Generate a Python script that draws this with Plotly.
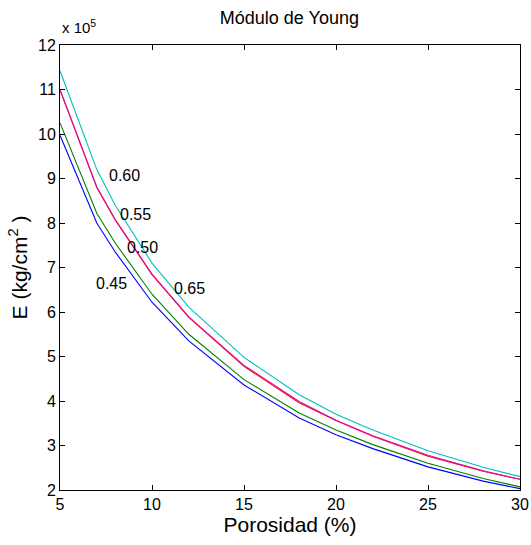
import plotly.graph_objects as go

# Porosity (%) sample points
porosidad = [5, 7, 8, 10, 12, 15, 18, 20, 22, 25, 28, 30]

# Young's modulus E (x 10^5 kg/cm^2)
e_045 = [9.97, 8.00, 7.35, 6.22, 5.35, 4.36, 3.62, 3.24, 2.93, 2.52, 2.20, 2.03]
e_050 = [10.25, 8.22, 7.55, 6.40, 5.50, 4.48, 3.73, 3.35, 3.02, 2.60, 2.26, 2.07]
e_055 = [10.99, 8.80, 8.07, 6.84, 5.88, 4.78, 3.96, 3.56, 3.21, 2.76, 2.42, 2.24]
e_060 = [11.42, 9.20, 8.40, 7.10, 6.11, 4.98, 4.14, 3.70, 3.35, 2.88, 2.51, 2.30]
e_065 = [11.00, 8.81, 8.08, 6.85, 5.89, 4.80, 3.99, 3.57, 3.22, 2.78, 2.43, 2.24]

series = [
    ('0.45', e_045, '#0000FF'),
    ('0.50', e_050, '#008000'),
    ('0.55', e_055, '#FF0000'),
    ('0.60', e_060, '#00BFBF'),
    ('0.65', e_065, '#D812A8'),
]

# curve labels and where they sit on the plot
curve_labels = ['0.60', '0.55', '0.50', '0.45', '0.65']
label_x = [8.53, 9.10, 9.46, 7.80, 12.04]
label_y = [9.06, 8.18, 7.44, 6.65, 6.52]

FONT = 'Liberation Sans, Arial, sans-serif'

fig = go.Figure()
for name, vals, color in series:
    fig.add_trace(go.Scatter(
        x=porosidad, y=vals, mode='lines', name=name,
        line=dict(color=color, width=1.1)
    ))

for txt, lx, ly in zip(curve_labels, label_x, label_y):
    fig.add_annotation(x=lx, y=ly, text=txt, showarrow=False,
                       font=dict(size=16, color='black', family=FONT))

# "x 10^5" exponent marker above the y axis
fig.add_annotation(xref='paper', yref='paper', x=0.0, y=1.015,
                   xanchor='left', yanchor='bottom', showarrow=False,
                   text='x 10<sup>5</sup>', font=dict(size=15, color='black', family=FONT))

axis_common = dict(
    showgrid=False, zeroline=False, showline=True, linecolor='black', linewidth=1,
    mirror='ticks', ticks='inside', ticklen=5, tickcolor='black', automargin=False,
    tickfont=dict(size=16, color='black', family=FONT),
)

fig.update_xaxes(range=[5, 30], tickvals=[5, 10, 15, 20, 25, 30],
                 title=dict(text='Porosidad (%)', font=dict(size=21, family=FONT, color='black'), standoff=5),
                 **axis_common)
fig.update_yaxes(range=[2, 12], tickvals=list(range(2, 13)),
                 title=dict(text='E (kg/cm<sup>2</sup> )', font=dict(size=21, family=FONT, color='black'), standoff=4),
                 **axis_common)

fig.update_layout(
    width=531, height=545,
    margin=dict(l=60, r=11, t=45, b=55),
    paper_bgcolor='white', plot_bgcolor='white',
    showlegend=False,
    title=dict(text='Módulo de Young', x=0.545, xanchor='center', y=0.967, yanchor='middle',
               font=dict(size=18, color='black', family=FONT)),
)

# drop the page's default body margin so the figure sits at the window corner
fig.write_html("out.html", config={'displayModeBar': False},
               post_script="document.body.style.margin='0';")
